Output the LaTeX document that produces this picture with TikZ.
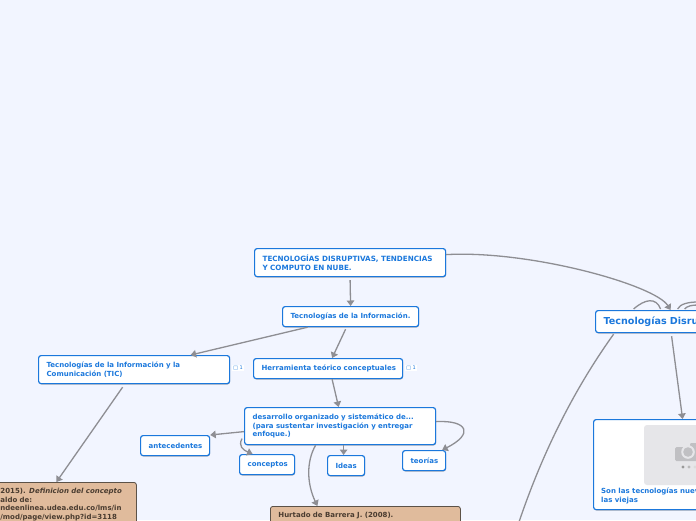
\documentclass[tikz,border=0pt]{standalone}
\usepackage{fontspec}
\setmainfont{DejaVu Sans}
\usetikzlibrary{arrows.meta,shadows}
\definecolor{fondo}{HTML}{F2F5FF}
\definecolor{azul}{HTML}{1B78DC}
\definecolor{linea}{HTML}{8E8E93}
\definecolor{tierra}{HTML}{E0BB9C}
\definecolor{tierraborde}{HTML}{5C5248}
\definecolor{tierratexto}{HTML}{4A3C30}
\definecolor{foto}{HTML}{E6E6E9}
\definecolor{camara}{HTML}{C0C0C3}
\begin{document}
\begin{tikzpicture}[x=1pt, y=-1pt,
    tema/.style={draw=azul, fill=white, line width=1.2pt, rounded corners=2.5pt, text=azul, font=\fontsize{7}{8.7}\selectfont\bfseries, anchor=north west, inner xsep=8pt, inner ysep=0pt, align=left, drop shadow={shadow xshift=0.4pt, shadow yshift=-0.9pt, opacity=0.3, fill=black}},
    nota/.style={draw=tierraborde, fill=tierra, line width=0.8pt, rounded corners=2.5pt, text=tierratexto, font=\fontsize{7}{8.6}\selectfont\bfseries, anchor=north west, inner xsep=8pt, inner ysep=6pt, align=left},
    marca/.style={fill=white, text=azul, font=\fontsize{5}{6}\selectfont, inner sep=1pt},
    flecha/.style={draw=linea, line width=1.3pt, -{Triangle[length=5.5pt,width=7.5pt]}},
    enlace/.style={draw=linea, line width=1.3pt}]
  % lienzo
  \fill[fondo] (0,0) rectangle (696,520);
  \clip (0,0) rectangle (696,520);
  \useasboundingbox (0,0) rectangle (696,520);
  % temas de la izquierda
  \node[tema, text width=175pt, minimum height=28pt, font=\fontsize{7.2}{8.7}\selectfont\bfseries] (titulo) at (254,248) {TECNOLOGÍAS DISRUPTIVAS, TENDENCIAS\\Y COMPUTO EN NUBE.};
  \node[tema, text width=120pt, minimum height=20pt] (info) at (282,306) {Tecnologías de la Información.};
  \node[tema, text width=175pt, minimum height=28pt] (tic) at (38,355) {Tecnologías de la Información y la\\Comunicación (TIC)};
  \node[tema, text width=133pt, minimum height=20pt] (herramienta) at (253,358) {\mbox{Herramienta teórico conceptuales}};
  \node[tema, text width=175pt, minimum height=37pt] (desarrollo) at (244,407) {desarrollo organizado y sistemático de...\\(para sustentar investigación y entregar\\enfoque.)};
  \node[tema, text width=53pt, minimum height=20pt] (antecedentes) at (140,435) {antecedentes};
  \node[tema, text width=39pt, minimum height=20pt] (conceptos) at (239,454) {conceptos};
  \node[tema, text width=21pt, minimum height=20pt] (ideas) at (327,455) {Ideas};
  \node[tema, text width=27pt, minimum height=20pt] (teorias) at (402,450) {teorías};
  % notas
  \node[nota, text width=128pt] (fuente) at (-8,482) {2015). \textit{Definicion del concepto}\\aldo de:\\ndeenlinea.udea.edu.co/lms/in\\/mod/page/view.php?id=3118};
  \node[nota, text width=174pt] (hurtado) at (270,506) {Hurtado de Barrera J. (2008).};
  % marcas de nota
  \node[marca] (marcatic) at (238,368) {□ 1};
  \node[marca] (marcaherr) at (411,368) {□ 1};
  % rama derecha
  \node[tema, text width=124pt, minimum height=22pt, font=\fontsize{9.6}{11}\selectfont\bfseries] (disruptivas) at (595,310) {Tecnologías Disru};
  \node[tema, minimum width=140pt, minimum height=90pt] (nuevas) at (593,419) {};
  \node[anchor=north west, text=azul, font=\fontsize{7}{8.7}\selectfont\bfseries, inner sep=0pt, align=left] (nuevastexto) at (601,488) {Son las tecnologías nuev\\las viejas};
  % imagen vacia
  \fill[foto, rounded corners=3pt] (644,425) rectangle (720,485);
  \fill[camara, rounded corners=1.5pt] (675,447) rectangle (710,461);
  \fill[camara, rounded corners=1pt] (690,443) rectangle (704,449);
  \fill[foto] (688,452) circle (6.8pt);
  \fill[camara] (688,452) circle (4.8pt);
  \fill[black!40] (683,467) circle (1.6pt);
  \fill[black!27] (689,467) circle (1.6pt);
  \fill[black!14] (695,467) circle (1.6pt);
  % extremos libres
  \coordinate (bajo) at (519,522);
  \coordinate (salida1) at (698,302);
  \coordinate (salida2) at (698,305);
  % conectores
  \draw[flecha] ([yshift=-3pt]titulo.south) -- (info.north);
  \draw[flecha] ([xshift=-5pt,yshift=-2pt]info.south) -- ([xshift=4pt]herramienta.north);
  \draw[flecha] ([xshift=-43pt]info.south) -- ([xshift=56.5pt]tic.north);
  \draw[flecha] ([xshift=-11.5pt,yshift=-3pt]tic.south) -- ([xshift=-8pt]fuente.north);
  \draw[flecha] ([xshift=4pt]herramienta.south) -- ([xshift=-1.5pt]desarrollo.north);
  \draw[flecha] ([yshift=-5.5pt]desarrollo.west) -- (antecedentes.north east);
  \draw[flecha] ([yshift=-12.5pt,xshift=-2pt]desarrollo.west) .. controls (238,446) and (243,450) .. ([xshift=-14.5pt]conceptos.north);
  \draw[flecha] ([xshift=3.5pt]desarrollo.south) -- ([xshift=-2.5pt]ideas.north);
  \draw[flecha] ([yshift=4.5pt]desarrollo.east) .. controls (468,420) and (474,434) .. ([xshift=18pt]teorias.north);
  \draw[flecha] ([xshift=-24.5pt]desarrollo.south) .. controls (306,462) and (307,484) .. ([xshift=-48pt]hurtado.north);
  \draw[flecha] ([yshift=8pt]titulo.east) .. controls (530,250) and (655,285) .. ([xshift=5pt]disruptivas.north);
  \draw[flecha] ([xshift=6pt,yshift=-3pt]disruptivas.south) -- ([xshift=19pt]nuevas.north);
  \draw[enlace] ([xshift=-52pt,yshift=-1pt]disruptivas.south) .. controls (570,395) and (540,460) .. (bajo);
  \draw[enlace] ([xshift=-32pt,yshift=1pt]disruptivas.north) .. controls (645,299) and (656,297) .. ([xshift=-5pt,yshift=1pt]disruptivas.north);
  \draw[enlace] ([xshift=12pt,yshift=1pt]disruptivas.north) .. controls (680,304) and (688,302) .. (salida1);
  \draw[enlace] ([xshift=19pt,yshift=1pt]disruptivas.north) .. controls (687,306) and (692,305) .. (salida2);
\end{tikzpicture}
\end{document}
